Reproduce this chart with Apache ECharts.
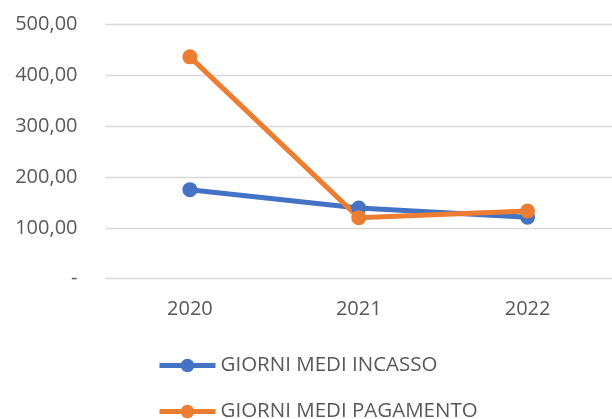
<!DOCTYPE html>
<html>
<head>
    <meta charset="utf-8">
    <title>Giorni medi</title>
    <script src="https://cdn.jsdelivr.net/npm/echarts@6/dist/echarts.min.js"></script>
    <style>
        html, body { margin: 0; padding: 0; background: #fff; }
    </style>
</head>
<body>
<div id="main" style="width: 612px;height:419px;"></div>
<script type="text/javascript">
    var anni = ['2020', '2021', '2022'];
    var incasso = [175, 139, 121];
    var pagamento = [436, 120, 133];
    var nomi = ['GIORNI MEDI INCASSO', 'GIORNI MEDI PAGAMENTO'];

    var testo = '#595959';
    var font = 'Open Sans';

    var myChart = echarts.init(document.getElementById('main'));

    function serie(nome, dati, colore) {
        return {
            name: nome,
            type: 'line',
            data: dati,
            symbol: 'circle',
            symbolSize: 15,
            lineStyle: { color: colore, width: 5 },
            itemStyle: { color: colore },
            animation: false
        };
    }

    var option = {
        grid: { left: 105.5, right: -3, top: 24.3, bottom: 140.3 },
        legend: {
            orient: 'vertical',
            left: 157,
            top: 355,
            height: 100,
            padding: 0,
            itemWidth: 56,
            itemHeight: 17,
            itemGap: 25,
            itemTextGap: 4,
            data: nomi,
            lineStyle: { width: 5 },
            textStyle: { color: testo, fontFamily: font, fontSize: 20.5 }
        },
        xAxis: {
            type: 'category',
            data: anni,
            axisLine: { show: false },
            axisTick: { show: false },
            axisLabel: { color: testo, fontFamily: font, fontSize: 20, margin: 21 }
        },
        yAxis: {
            type: 'value',
            min: 0,
            max: 500,
            interval: 100,
            axisLabel: {
                color: testo, fontFamily: font, fontSize: 20, margin: 28,
                formatter: function (v) {
                    return v === 0 ? '-' : v.toFixed(2).replace('.', ',');
                }
            },
            splitLine: { lineStyle: { color: '#D9D9D9', width: 1.3 } }
        },
        series: [
            serie(nomi[0], incasso, '#4472C4'),
            serie(nomi[1], pagamento, '#ED7D31')
        ]
    };

    myChart.setOption(option);
</script>
</body>
</html>
